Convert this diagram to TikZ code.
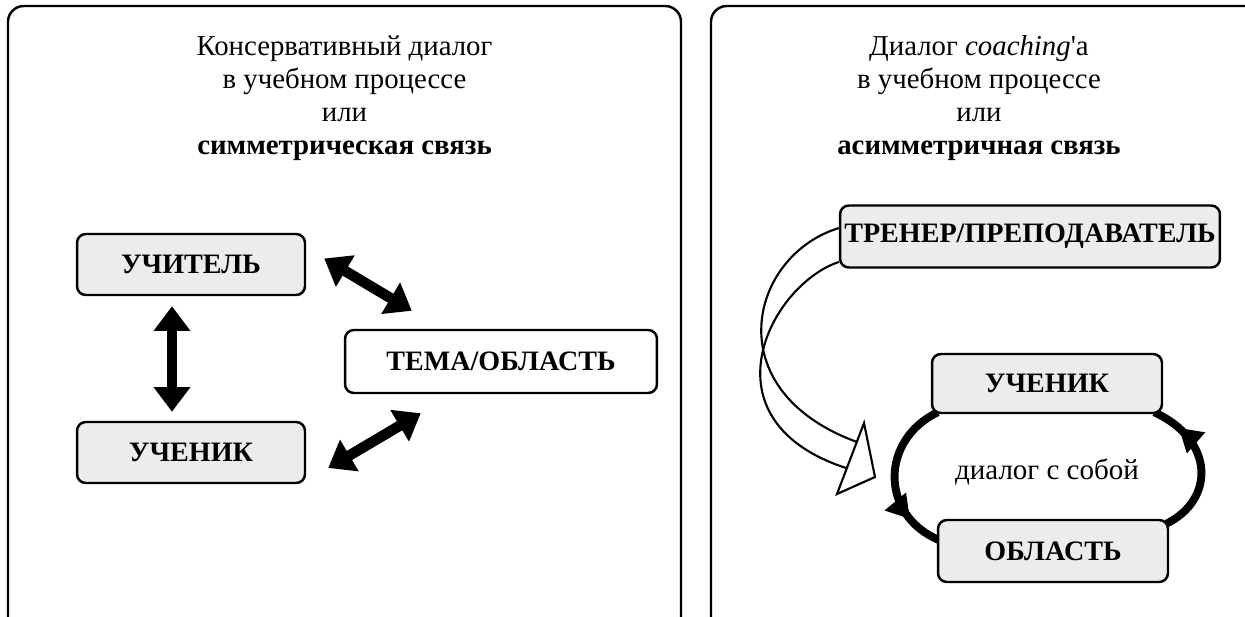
\documentclass[tikz,border=0pt]{standalone}
\usepackage{fontspec}
\setmainfont{Liberation Serif}
\usetikzlibrary{positioning,arrows.meta,calc,decorations.markings,backgrounds}
\definecolor{boxgray}{HTML}{EBECEE}

\begin{document}
\begin{tikzpicture}[
    x=0.02cm, y=-0.02cm,
    panel/.style={line width=1.4pt, rounded corners=9pt},
    title/.style={
        align=center,
        font=\fontsize{16.4}{18.7}\selectfont
    },
    graybox/.style={
        draw,
        line width=1.4pt,
        rounded corners=5pt,
        fill=boxgray,
        inner sep=0pt,
        font=\fontsize{16}{18}\selectfont\bfseries
    },
    whitebox/.style={graybox, fill=white},
    dblarrow/.style={
        {Triangle[length=14pt,width=20pt]}-{Triangle[length=14pt,width=20pt]},
        line width=6pt
    },
    looparrow/.style={
        line width=4.5pt,
        postaction={decorate},
        decoration={markings,
            mark=at position #1 with {\arrow{Triangle[length=13pt,width=15pt]}}}
    },
    ribbon/.style={line width=1.2pt}
]
\useasboundingbox (0,0) rectangle (1245,616);

% Rahmen
\draw[panel] (8,6) rectangle (681,640);
\draw[panel] (711,6) rectangle (1262,640);

% Titel
\node[title] (titleL) at (344.5,98) {Консервативный диалог\\ в учебном процессе\\ или\\ \textbf{симметрическая связь}};
\node[title] (titleR) at (979,98) {Диалог \textit{coaching}\textquotesingle а\\ в учебном процессе\\ или\\ \textbf{асимметричная связь}};

% Links
\node[graybox, minimum width=4.56cm, minimum height=1.22cm] (teacher) at (191,264.5) {УЧИТЕЛЬ};
\node[graybox, minimum width=4.56cm, minimum height=1.22cm] (pupilL) at (191,452.5) {УЧЕНИК};
\node[whitebox, minimum width=6.24cm, minimum height=1.26cm] (topic) at (501,361.5) {ТЕМА/ОБЛАСТЬ};

% Rechts
\node[graybox, minimum width=7.6cm, minimum height=1.24cm] (trainer) at (1030,236.5) {ТРЕНЕР/ПРЕПОДАВАТЕЛЬ};
\node[graybox, minimum width=4.6cm, minimum height=1.18cm] (pupilR) at (1047,383.5) {УЧЕНИК};
\node[graybox, minimum width=4.6cm, minimum height=1.24cm] (areaR) at (1053,551) {ОБЛАСТЬ};
\node[font=\fontsize{16.5}{18}\selectfont] (self) at (1047,472) {диалог с собой};

% Pfeile links
\draw[dblarrow] ([shift={(-19,10)}]teacher.south) -- ([shift={(-19,-9)}]pupilL.north);
\draw[dblarrow] ([shift={(18,-6)}]teacher.east) -- ([shift={(68,-18)}]topic.north west);
\draw[dblarrow] ([shift={(22,15.5)}]pupilL.east) -- ([shift={(77,19)}]topic.south west);

% Kreis rechts
\begin{scope}[on background layer]
\draw[looparrow=0.78] ([shift={(7,-2)}]pupilR.south west) .. controls (880,440) and (880,515) .. ([shift={(2,-11)}]areaR.west);
\draw[looparrow=0.8] ([shift={(-3,5)}]areaR.north east) .. controls (1215,500) and (1215,440) .. ([shift={(-9,-2)}]pupilR.south east);
\end{scope}

% Hohlpfeil
\coordinate (baseA) at (857,442);
\coordinate (baseB) at (846,468);
\draw[ribbon] ([yshift=4.8pt]trainer.west) .. controls (750,255) and (715,390) .. (baseA);
\draw[ribbon] ([yshift=-14.5pt]trainer.west) .. controls (770,285) and (700,420) .. (baseB);
\draw[ribbon, fill=white] (864,423) -- (875,477) -- (837,494) -- cycle;

\end{tikzpicture}
\end{document}
